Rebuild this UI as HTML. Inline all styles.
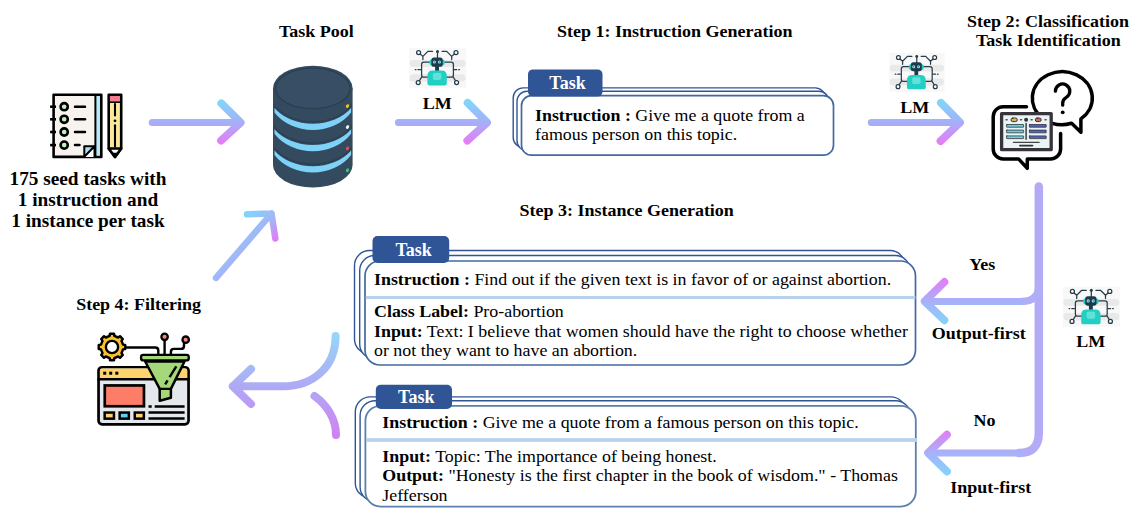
<!DOCTYPE html>
<html><head><meta charset="utf-8">
<style>
html,body{margin:0;padding:0;background:#fff;width:1141px;height:515px;overflow:hidden}
svg{display:block}
text{font-family:"Liberation Serif",serif;fill:#000}
.b{font-weight:bold}
.lbl{font-weight:bold;font-size:18px;text-anchor:middle}
.bx{font-size:17.9px}
.tab{font-weight:bold;font-size:18px;fill:#fff;text-anchor:middle}
</style></head><body>
<svg width="1141" height="515" viewBox="0 0 1141 515">
<defs>
<linearGradient id="gH1" gradientUnits="userSpaceOnUse" x1="0" y1="101" x2="0" y2="143">
<stop offset="0" stop-color="#7fd6fb"/><stop offset="0.5" stop-color="#a5b0f8"/><stop offset="1" stop-color="#e57df6"/></linearGradient>
<linearGradient id="gDiag" gradientUnits="userSpaceOnUse" x1="247" y1="213" x2="276" y2="240">
<stop offset="0" stop-color="#80d5fb"/><stop offset="0.6" stop-color="#a5b3f8"/><stop offset="1" stop-color="#e37bf4"/></linearGradient>
<linearGradient id="gYes" gradientUnits="userSpaceOnUse" x1="0" y1="278" x2="0" y2="325">
<stop offset="0" stop-color="#e57cf6"/><stop offset="0.5" stop-color="#a8b1f8"/><stop offset="1" stop-color="#80d6fb"/></linearGradient>
<linearGradient id="gNo" gradientUnits="userSpaceOnUse" x1="0" y1="430" x2="0" y2="476">
<stop offset="0" stop-color="#e57cf6"/><stop offset="0.5" stop-color="#a8b1f8"/><stop offset="1" stop-color="#80d6fb"/></linearGradient>
<linearGradient id="gMerge" gradientUnits="userSpaceOnUse" x1="0" y1="332" x2="0" y2="440">
<stop offset="0" stop-color="#95d7f9"/><stop offset="0.5" stop-color="#aeaaf4"/><stop offset="1" stop-color="#d47ef2"/></linearGradient>
</defs>

<!-- ===== labels ===== -->
<text class="lbl" x="316.3" y="36.8" transform="matrix(1,0,0,0.95,0,1.840)">Task Pool</text>
<text class="lbl" x="88" y="185" style="font-size:19.3px" transform="matrix(1,0,0,0.95,0,9.250)">175 seed tasks with</text>
<text class="lbl" x="88" y="205.9" style="font-size:19.3px" transform="matrix(1,0,0,0.95,0,10.295)">1 instruction and</text>
<text class="lbl" x="88" y="226.6" style="font-size:19.3px" transform="matrix(1,0,0,0.95,0,11.330)">1 instance per task</text>
<text class="lbl" x="674.8" y="37.1" transform="matrix(1,0,0,0.95,0,1.855)">Step 1: Instruction Generation</text>
<text class="lbl" x="1048" y="26.8" transform="matrix(1,0,0,0.95,0,1.340)">Step 2: Classification</text>
<text class="lbl" x="1048.3" y="45.7" transform="matrix(1,0,0,0.95,0,2.285)">Task Identification</text>
<text class="lbl" x="626.7" y="216" transform="matrix(1,0,0,0.95,0,10.800)">Step 3: Instance Generation</text>
<text class="lbl" x="138.6" y="310" transform="matrix(1,0,0,0.95,0,15.500)">Step 4: Filtering</text>
<text class="lbl" x="437.2" y="108.8" transform="matrix(1,0,0,0.95,0,5.440)">LM</text>
<text class="lbl" x="914.8" y="112.6" transform="matrix(1,0,0,0.95,0,5.630)">LM</text>
<text class="lbl" x="1090.8" y="346.9" transform="matrix(1,0,0,0.95,0,17.345)">LM</text>
<text class="lbl" x="982.2" y="269.7" transform="matrix(1,0,0,0.95,0,13.485)">Yes</text>
<text class="lbl" x="978.7" y="339" transform="matrix(1,0,0,0.95,0,16.950)">Output-first</text>
<text class="lbl" x="984.5" y="425.6" transform="matrix(1,0,0,0.95,0,21.280)">No</text>
<text class="lbl" x="990.8" y="493" transform="matrix(1,0,0,0.95,0,24.650)">Input-first</text>

<!-- ===== arrows ===== -->
<g fill="none" stroke-linecap="round" stroke-linejoin="round">
<path d="M152.2,122.6 L239,122.6" stroke="url(#gH1)" stroke-width="7"/><path d="M221.3,103.3 L240.7,122.6 L221,140.7" stroke="url(#gH1)" stroke-width="7.8"/>
<path d="M398.4,122.6 L486,122.6" stroke="url(#gH1)" stroke-width="7"/><path d="M467.6,102.8 L487.1,122.6 L467.3,140.7" stroke="url(#gH1)" stroke-width="7.8"/>
<path d="M871.3,122.4 L959,122.4" stroke="url(#gH1)" stroke-width="7"/><path d="M940.9,102.8 L960.1,122.4 L940.5,141.1" stroke="url(#gH1)" stroke-width="7.8"/>
<path d="M216,277.8 L271.5,213.5 M247,214.3 L271.5,213.5 L275.3,238.5" stroke="url(#gDiag)" stroke-width="6.5"/>
<!-- right flow -->
<path d="M1038.8,186.5 L1038.8,433 Q1038.8,452.9 1019,452.9" stroke="#b4abf6" stroke-width="8.5"/>
<path d="M1038.8,285 Q1038.8,301.4 1022,301.4" stroke="#b0aef6" stroke-width="7.2"/>
<path d="M1022,301.4 L926,301.4" stroke="url(#gYes)" stroke-width="7"/><path d="M944.4,282 L924.7,301.4 L944.4,320.3" stroke="url(#gYes)" stroke-width="7.8"/>
<path d="M1019,452.9 L929,452.9" stroke="url(#gNo)" stroke-width="7"/><path d="M947,434.6 L928,452.9 L947,471.5" stroke="url(#gNo)" stroke-width="7.8"/>
<!-- merge -->
<path d="M335.6,336 C335.6,368 312,386.3 283,386.3 L232.8,386.3 M251,369 L232.8,386.3 L251,404" stroke="url(#gMerge)" stroke-width="8"/>
<path d="M314.5,396 C327,405 336,419 336,435" stroke="url(#gMerge)" stroke-width="8"/>
</g>

<!-- ===== task boxes ===== -->
<g fill="#fff" stroke="#2f5597" stroke-width="1.4">
<rect x="513.2" y="87.9" width="312" height="59.5" rx="10"/>
<rect x="517" y="91.3" width="312" height="59.5" rx="10"/>
<rect x="521.5" y="95.7" width="312" height="59.5" rx="10" stroke="#44699f" stroke-width="1.7"/>
</g>
<rect x="528" y="69.4" width="74.5" height="27.2" rx="5" fill="#2f5597"/>
<text class="tab" x="567.5" y="89.1">Task</text>
<text class="bx" x="535" y="121.2" transform="matrix(1,0,0,0.92,0,9.696)"><tspan class="b">Instruction :</tspan> Give me a quote from a</text>
<text class="bx" x="535" y="140.4" transform="matrix(1,0,0,0.92,0,11.232)">famous person on this topic.</text>

<g fill="#fff" stroke="#2f5597" stroke-width="1.4">
<rect x="354.5" y="250.5" width="550.5" height="103.5" rx="15"/>
<rect x="359.7" y="255.5" width="550.5" height="103.5" rx="15"/>
<rect x="365" y="261" width="550.5" height="104" rx="15" stroke="#44699f" stroke-width="1.7"/>
</g>
<rect x="365.8" y="296" width="549.5" height="3.1" fill="#b9d3ec"/>
<rect x="372.5" y="236" width="76.7" height="26.9" rx="5" fill="#2f5597"/>
<text class="tab" x="413.6" y="255.8">Task</text>
<text class="bx" x="374" y="285.3" transform="matrix(1,0,0,0.92,0,22.824)"><tspan class="b">Instruction :</tspan> Find out if the given text is in favor of or against abortion.</text>
<text class="bx" x="374" y="316.6" transform="matrix(1,0,0,0.92,0,25.328)"><tspan class="b">Class Label:</tspan> Pro-abortion</text>
<text class="bx" x="374" y="336.9" transform="matrix(1,0,0,0.92,0,26.952)"><tspan class="b">Input:</tspan> Text: I believe that women should have the right to choose whether</text>
<text class="bx" x="374" y="355.8" transform="matrix(1,0,0,0.92,0,28.464)">or not they want to have an abortion.</text>

<g fill="#fff" stroke="#2f5597" stroke-width="1.4">
<rect x="355.3" y="396.9" width="550.4" height="101" rx="15"/>
<rect x="360.1" y="400.7" width="550.4" height="101" rx="15"/>
<rect x="365.4" y="405.8" width="550.4" height="100.8" rx="15" stroke="#5b80ab" stroke-width="1.8"/>
</g>
<rect x="366.2" y="438.1" width="551" height="3.8" fill="#b9d3ec"/>
<rect x="375.8" y="384.8" width="76.2" height="24.1" rx="5" fill="#2f5597"/>
<text class="tab" x="416.3" y="403">Task</text>
<text class="bx" x="382.3" y="428.4" transform="matrix(1,0,0,0.92,0,34.272)"><tspan class="b">Instruction :</tspan> Give me a quote from a famous person on this topic.</text>
<text class="bx" x="382.3" y="462.1" transform="matrix(1,0,0,0.92,0,36.968)"><tspan class="b">Input:</tspan> Topic: The importance of being honest.</text>
<text class="bx" x="382.3" y="481.4" transform="matrix(1,0,0,0.92,0,38.512)"><tspan class="b">Output:</tspan> "Honesty is the first chapter in the book of wisdom." - Thomas</text>
<text class="bx" x="382.3" y="500.9" transform="matrix(1,0,0,0.92,0,40.072)">Jefferson</text>

<!-- ICONS -->

<!-- filter icon -->
<g id="filter" stroke="#000" stroke-linejoin="round" stroke-linecap="round">
<path d="M123.05,344.62 L125.25,345.01 L125.25,348.99 L123.05,349.38 L121.49,353.13 L122.78,354.96 L119.96,357.78 L118.13,356.49 L114.38,358.05 L113.99,360.25 L110.01,360.25 L109.62,358.05 L105.87,356.49 L104.04,357.78 L101.22,354.96 L102.51,353.13 L100.95,349.38 L98.75,348.99 L98.75,345.01 L100.95,344.62 L102.51,340.87 L101.22,339.04 L104.04,336.22 L105.87,337.51 L109.62,335.95 L110.01,333.75 L113.99,333.75 L114.38,335.95 L118.13,337.51 L119.96,336.22 L122.78,339.04 L121.49,340.87 Z" fill="#fbc02d" stroke-width="2.5"/>
<circle cx="112" cy="347" r="6.1" fill="#fff" stroke-width="2.4"/>
<path d="M126,347.5 H155.3 Q158.3,347.5 158.3,350.5 V355" fill="none" stroke-width="2.4"/>
<path d="M164.6,355 V341" fill="none" stroke-width="2.4"/>
<path d="M170.9,355 V351.9 Q170.9,348.9 173.9,348.9 H181 Q184,348.9 184,345.9 V343" fill="none" stroke-width="2.4"/>
<circle cx="164.6" cy="336.8" r="3.2" fill="#f2897a" stroke-width="2.3"/>
<circle cx="185.7" cy="339.7" r="3.2" fill="#f2897a" stroke-width="2.3"/>
<!-- browser -->
<rect x="98.55" y="367.25" width="90" height="57.1" rx="3.5" fill="#e4e7ec" stroke-width="2.7"/>
<path d="M99.9,378.2 V370.5 Q99.9,368.6 101.8,368.6 H185.3 Q187.2,368.6 187.2,370.5 V378.2 Z" fill="#fdd36e" stroke="none"/>
<line x1="98.55" y1="379.3" x2="188.55" y2="379.3" stroke-width="2.5"/>
<g fill="#000" stroke="none">
<rect x="103.2" y="371.7" width="3" height="3"/><rect x="109.2" y="371.7" width="3" height="3"/><rect x="115.3" y="371.7" width="3" height="3"/>
</g>
<rect x="104.75" y="385.45" width="39.2" height="20.8" fill="#fe7d69" stroke-width="2.7" stroke-linejoin="miter"/>
<g stroke-width="2.5" stroke-linejoin="miter">
<rect x="104.65" y="412.55" width="9.3" height="6.1" fill="#fdd36e"/>
<rect x="119.65" y="412.55" width="9.2" height="6.1" fill="#5ed0f0"/>
<rect x="134.75" y="412.55" width="9.1" height="6.1" fill="#fdd36e"/>
</g>
<g stroke-width="2.5" stroke-linecap="butt">
<line x1="148.5" y1="406.5" x2="151.7" y2="406.5"/><line x1="154.7" y1="406.5" x2="184.6" y2="406.5"/>
<line x1="148.5" y1="412.6" x2="184.6" y2="412.6"/><line x1="148.5" y1="418.6" x2="184.6" y2="418.6"/>
</g>
<!-- funnel -->
<path d="M145.2,361.5 L159.7,388.9 V400.8 L170.9,397.7 V388.9 L184.5,361.5 Z" fill="#a5d878" stroke-width="2.5"/>
<line x1="159.7" y1="388.9" x2="170.9" y2="388.9" stroke-width="2.3"/>
<rect x="141.05" y="354.95" width="47.7" height="5.4" rx="2.2" fill="#a5d878" stroke-width="2.3"/>
<g stroke-width="2.4" stroke-linecap="butt">
<line x1="176.3" y1="366.4" x2="169.6" y2="377.2"/><line x1="167.6" y1="380.4" x2="165.2" y2="384.3"/>
</g>
</g>
<g id="robot">
<rect x="409.2" y="47.7" width="57.1" height="40.2" fill="#f8f8f8"/>
<rect x="409.6" y="60.1" width="56" height="6.8" rx="3.4" fill="#e9e9e9"/>
<rect x="409.6" y="74.2" width="56" height="7.3" rx="3.6" fill="#e9e9e9"/>
<g fill="none" stroke="#263c4a" stroke-width="1.25" stroke-linejoin="round" stroke-linecap="round">
<path d="M418.8,52.8 L422.9,56.4 L427.9,51.4 H432.5 M422.9,56.4 V59.6"/>
<path d="M455.8,52.8 L451.7,56.4 L446.7,51.4 H442.1 M451.7,56.4 V59.6"/>
<path d="M437.5,57.8 V51.4"/>
<path d="M429.5,62 H423.8 Q421.6,62 421.6,64.2 V75 Q421.6,77.2 423.8,77.2 H428 M421.6,77.2 L418.3,82.4"/>
<path d="M444.5,62 H451.2 Q453.4,62 453.4,64.2 V75 Q453.4,77.2 451.2,77.2 H446.6 M453.4,77.2 L456.5,82.4"/>
<path d="M415.3,69.7 H416 M418,69.7 H420.6 M454.2,69.7 H456.8 M458.8,69.7 H459.5"/>
</g>
<g fill="#fff" stroke="#263c4a" stroke-width="1.25">
<circle cx="418.6" cy="52.6" r="2"/><circle cx="456" cy="52.6" r="2"/>
<circle cx="418.2" cy="82.6" r="2"/><circle cx="456.6" cy="82.6" r="2"/>
</g>
<circle cx="437.5" cy="51.4" r="1.5" fill="#263c4a"/>
<rect x="429.3" y="59.3" width="15.5" height="6.2" rx="3" fill="#22cfc2"/>
<rect x="431.4" y="57.4" width="11.3" height="9.4" rx="2.6" fill="#1b3a4b"/>
<rect x="435.1" y="66" width="3.9" height="5" fill="#1b3a4b"/>
<circle cx="434.4" cy="62" r="1.55" fill="#a8eef0"/><circle cx="439.4" cy="62" r="1.55" fill="#a8eef0"/>
<circle cx="434.4" cy="62" r="0.75" fill="#3d6a85"/><circle cx="439.4" cy="62" r="0.75" fill="#3d6a85"/>
<path d="M427.4,83.6 Q427.4,85.4 429.2,85.4 H445 Q446.8,85.4 446.8,83.6 V76 Q446.8,70.6 441.4,70.6 H432.8 Q427.4,70.6 427.4,76 Z" fill="#22d0c3"/>
<rect x="432.8" y="72.9" width="8.6" height="7" rx="1.8" fill="#60e2d9"/>
</g>
<use href="#robot" transform="translate(889.3,52.8) scale(0.97) translate(-409.2,-47.7)"/>
<use href="#robot" transform="translate(653.8,238.9)"/>

<!-- classification icon -->
<g id="classify" stroke-linecap="round" stroke-linejoin="round">
<path d="M1080.9,118.9 A30,26.5 0 1 0 1071.6,123.3 L1080.9,132.2 Z" fill="#fff" stroke="#000" stroke-width="3.5"/>
<path d="M1055.4,91.2 A7.2,7.2 0 1 1 1066.3,97.4 Q1062.7,99.6 1062.7,103 V105.2" fill="none" stroke="#000" stroke-width="3.3"/>
<circle cx="1062.7" cy="112.3" r="1.9" fill="#000"/>
<path d="M1026.5,106.7 H1003.2 A10,10 0 0 0 993.2,116.7 V148.9 A10,10 0 0 0 1003.2,158.9 H1018.5 L1027.3,168.3 V158.9 H1050.6 A10,10 0 0 0 1060.6,148.9 V133.5" fill="none" stroke="#000" stroke-width="3.5"/>
<rect x="1001.6" y="113.6" width="49.6" height="36.1" fill="#eaf3f6" stroke="#38343c" stroke-width="3.3"/>
<g stroke="#555" stroke-width="1.4">
<line x1="1006" y1="119.7" x2="1007.2" y2="119.7"/><line x1="1020.4" y1="119.7" x2="1021.6" y2="119.7"/>
<line x1="1031" y1="119.7" x2="1032.2" y2="119.7"/><line x1="1045" y1="119.7" x2="1046.2" y2="119.7"/>
</g>
<rect x="1011" y="118" width="6.3" height="3.6" rx="1.8" fill="#d8b84f" stroke="#333" stroke-width="1"/>
<circle cx="1026.1" cy="119.7" r="2" fill="#333"/>
<rect x="1035.3" y="118" width="5.9" height="3.6" rx="1.8" fill="#de5f5f" stroke="#333" stroke-width="1"/>
<line x1="1026.1" y1="123.5" x2="1026.1" y2="139.3" stroke="#333" stroke-width="1.4"/>
<g fill="#6cd0e4" stroke="#333" stroke-width="0.8">
<rect x="1006.6" y="124.5" width="17" height="2.7" rx="0.3"/><rect x="1006.6" y="130.1" width="17" height="2.7" rx="0.3"/><rect x="1006.6" y="135.9" width="17" height="2.7" rx="0.3"/>
</g>
<g fill="#5262c6" stroke="#333" stroke-width="0.8">
<rect x="1029.4" y="124.5" width="16.8" height="2.7" rx="0.3"/><rect x="1029.4" y="130.1" width="16.8" height="2.7" rx="0.3"/><rect x="1029.4" y="135.9" width="16.8" height="2.7" rx="0.3"/>
</g>
<line x1="1013.4" y1="142.3" x2="1039.2" y2="142.3" stroke="#444" stroke-width="1.2"/>
<line x1="1020" y1="145.6" x2="1032.4" y2="145.6" stroke="#333" stroke-width="1.9"/>
</g>

<!-- notebook -->
<g id="notebook" stroke="#000" stroke-width="2.6" stroke-linejoin="round">
<path d="M53.6,94.8 H101.3 V156.9 H84.3 L94.5,146.3 V156.9" fill="#f7f3ef" stroke="none"/>
<path d="M53.6,94.8 H101.3 V156.9 H53.6 Z" fill="#f7f3ef"/>
<rect x="95.4" y="96.1" width="4.6" height="59.5" fill="#b8e9f6" stroke="none"/>
<line x1="95.4" y1="95" x2="95.4" y2="156.5" stroke-width="2"/>
<path d="M84.3,156.9 V146.3 H94.5 Z" fill="#aee3f3" stroke-width="2"/>
<path d="M84.3,156.9 L94.5,146.3 V156.9" fill="#fff" stroke-width="2"/>
<g stroke-linecap="butt">
<line x1="50.1" y1="106.7" x2="56" y2="106.7"/><line x1="50.1" y1="119.3" x2="56" y2="119.3"/>
<line x1="50.1" y1="132" x2="56" y2="132"/><line x1="50.1" y1="145.1" x2="56" y2="145.1"/>
</g>
<g fill="#c3f1bb" stroke-width="2.6">
<circle cx="64.2" cy="106.7" r="3.6"/><circle cx="64.2" cy="119.3" r="3.6"/>
<circle cx="64.2" cy="132" r="3.6"/><circle cx="64.2" cy="145.1" r="3.6"/>
</g>
<g stroke-linecap="round" stroke-width="2.5">
<line x1="75" y1="106.7" x2="85" y2="106.7"/><line x1="75" y1="119.3" x2="85" y2="119.3"/>
<line x1="75" y1="132" x2="85" y2="132"/><line x1="75" y1="145.1" x2="79.5" y2="145.1"/>
</g>
<!-- pencil -->
<path d="M108.7,94.8 H121.2 V148.5 L115,157 L108.7,148.5 Z" fill="#fbe99a"/>
<rect x="109.9" y="96" width="10.1" height="5.8" fill="#f27a90" stroke="none"/>
<line x1="108.7" y1="102.2" x2="121.2" y2="102.2" stroke-width="1.6"/>
<path d="M108.7,148.5 H121.2 L115,157 Z" fill="#fff"/>
<path d="M112.6,153.3 H117.4 L115,157 Z" fill="#000" stroke-width="1.2"/>
<g stroke-width="2.1" stroke-linecap="round">
<line x1="115" y1="104" x2="115" y2="115.5"/><line x1="115" y1="125.3" x2="115" y2="146.5"/>
</g>
<circle cx="115" cy="120.8" r="1.4" fill="#000" stroke="none"/>
</g>
<!-- database -->
<g id="db">
<clipPath id="dbclip"><path d="M273.6,88.5 L273.6,165 A39.2,22.5 0 0 0 352,165 L352,88.5 Z"/></clipPath>
<path d="M273,88.5 L273,165 A39.8,22.5 0 0 0 352.6,165 L352.6,88.5 Z" fill="#344a5e"/>
<ellipse cx="312.8" cy="88.3" rx="39.8" ry="22.6" fill="#344a5e"/>
<path d="M272.5,103.48 A45,33.3 0 0 0 353.1,103.48" fill="none" stroke="#2e4154" stroke-width="1.8" clip-path="url(#dbclip)"/><path d="M272.5,124.68 A45,33.3 0 0 0 353.1,124.68" fill="none" stroke="#2e4154" stroke-width="1.8" clip-path="url(#dbclip)"/><path d="M272.5,145.88 A45,33.3 0 0 0 353.1,145.88" fill="none" stroke="#2e4154" stroke-width="1.8" clip-path="url(#dbclip)"/>
<ellipse cx="312.8" cy="88.5" rx="37.3" ry="20.2" fill="#374e64" stroke="#2a3d4f" stroke-width="1.1"/>
<path d="M274.5,107.98 A45,33.3 0 0 0 351.1,107.98 L351.1,112.61 A45,36.6 0 0 1 274.5,112.61 Z" fill="#7fd2f7"/><path d="M274.5,129.18 A45,33.3 0 0 0 351.1,129.18 L351.1,133.81 A45,36.6 0 0 1 274.5,133.81 Z" fill="#7fd2f7"/><path d="M274.5,150.38 A45,33.3 0 0 0 351.1,150.38 L351.1,155.01 A45,36.6 0 0 1 274.5,155.01 Z" fill="#7fd2f7"/>
<ellipse cx="347.5" cy="106.1" rx="1.5" ry="2" transform="rotate(30 347.5 106.1)" fill="#f2c21b"/>
<ellipse cx="347.5" cy="127.1" rx="1.5" ry="2" transform="rotate(30 347.5 127.1)" fill="#f4f4f4"/>
<ellipse cx="347.5" cy="148.4" rx="1.5" ry="2" transform="rotate(30 347.5 148.4)" fill="#e94b3c"/>
<ellipse cx="347.5" cy="170.3" rx="1.5" ry="2" transform="rotate(30 347.5 170.3)" fill="#2ecc71"/>
</g>
</svg>
</body></html>
